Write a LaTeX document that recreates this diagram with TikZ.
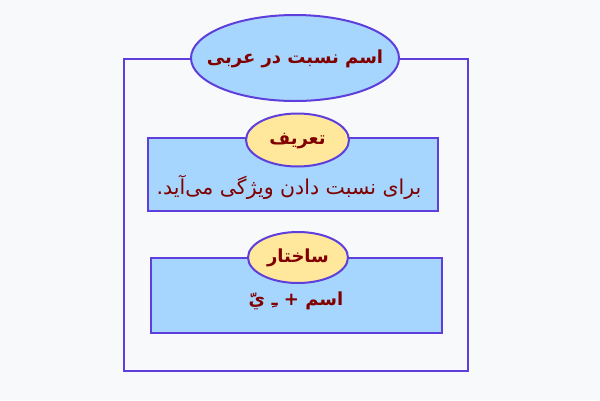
\documentclass[tikz,border=0pt]{standalone}
\usepackage{fontspec}
\usetikzlibrary{shapes.geometric}
\TeXXeTstate=1
\newfontfamily\arabicfont[Script=Arabic]{DejaVu Sans}
\definecolor{bgc}{HTML}{F8F9FB}
\definecolor{linec}{HTML}{5F3FDB}
\definecolor{bluef}{HTML}{A6D5FE}
\definecolor{yellowf}{HTML}{FFE79B}
\definecolor{redt}{HTML}{800000}
\tikzset{
  boxs/.style={draw=linec, line width=2pt, fill=bluef},
  ellb/.style={ellipse, draw=linec, line width=2pt, fill=bluef, inner sep=0pt},
  elly/.style={ellipse, draw=linec, line width=2pt, fill=yellowf, inner sep=0pt},
  txt/.style={text=redt, font=\arabicfont\fontsize{20.5}{24}\selectfont, inner sep=0pt},
  btxt/.style={text=redt, font=\arabicfont\bfseries\fontsize{18}{21}\selectfont, inner sep=0pt},
}
\begin{document}
\begin{tikzpicture}[x=1pt,y=-1pt]
\fill[bgc] (0,0) rectangle (600,400);
\useasboundingbox (0,0) rectangle (600,400);
\coordinate (o1) at (124,59);
\coordinate (o2) at (468,371);
\draw[draw=linec, line width=2pt] (o1) rectangle (o2);
\node[ellb, minimum width=208pt, minimum height=86pt] (title) at (295,58) {};
\node[btxt] (titlet) at (295,59) {\beginR اسم نسبت در عربی\endR};
\draw[boxs] (148,138) rectangle (438,211);
\node[elly, minimum width=103pt, minimum height=53pt] (e1) at (297.5,140) {};
\node[btxt] (e1t) at (297.5,141) {\beginR تعریف\endR};
\node[txt] (d1) at (289,187) {\beginR برای نسبت دادن ویژگی می‌آید.\endR};
\draw[boxs] (151,258) rectangle (442,333);
\node[elly, minimum width=100pt, minimum height=51pt] (e2) at (298,257.5) {};
\node[btxt] (e2t) at (298,258) {\beginR ساختار\endR};
\node[btxt] (d2) at (296,301) {\beginR اسم + ـِ يّ\endR};
\end{tikzpicture}
\end{document}
